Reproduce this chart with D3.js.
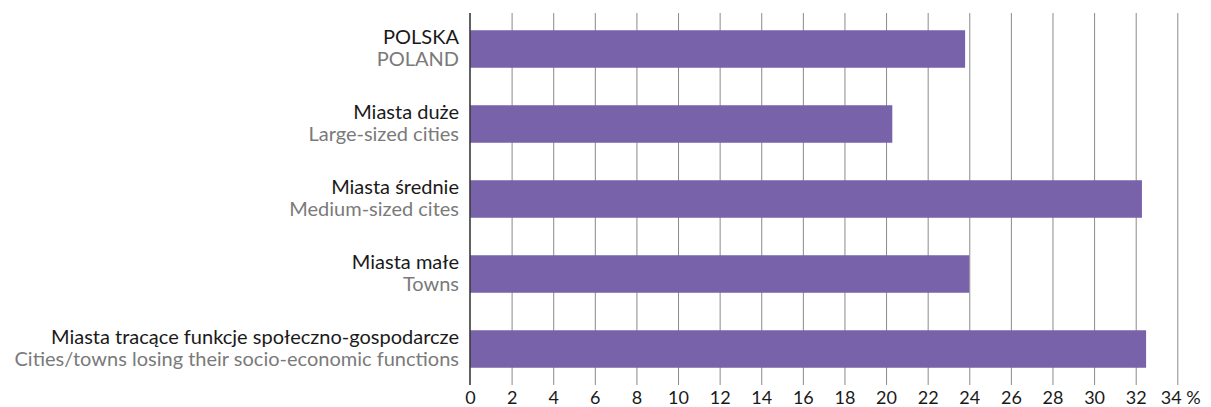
<!DOCTYPE html>
<html>
<head>
<meta charset="utf-8">
<script src="https://cdn.jsdelivr.net/npm/d3@7"></script>
<style>
  html, body { margin: 0; padding: 0; background: #ffffff; }
  svg { display: block; }
  text { font-family: Lato, "Open Sans", sans-serif; }
</style>
</head>
<body>
<svg id="chart" width="1211" height="407"></svg>
<script>
// Category labels (Polish / English) and their values in percent
const labelsPl = [
  "POLSKA",
  "Miasta duże",
  "Miasta średnie",
  "Miasta małe",
  "Miasta tracące funkcje społeczno-gospodarcze"
];
const labelsEn = [
  "POLAND",
  "Large-sized cities",
  "Medium-sized cites",
  "Towns",
  "Cities/towns losing their socio-economic functions"
];
const values = [23.8, 20.3, 32.3, 24.0, 32.5];
const tickValues = [0, 2, 4, 6, 8, 10, 12, 14, 16, 18, 20, 22, 24, 26, 28, 30, 32, 34];

const svg = d3.select("#chart");

const x = d3.scaleLinear().domain([0, 34]).range([470, 1177.3]);
const y = d3.scaleBand()
  .domain(labelsPl)
  .range([11.5, 386.5])
  .paddingInner(0.5)
  .paddingOuter(0.25);

const gridTop = 13, gridBottom = 385;

// Vertical gridlines (extend below the plot as tick marks)
svg.append("g")
  .selectAll("line")
  .data(tickValues.filter(d => d > 0))
  .join("line")
  .attr("x1", d => x(d) + 0.5)
  .attr("x2", d => x(d) + 0.5)
  .attr("y1", gridTop)
  .attr("y2", gridBottom)
  .attr("stroke", "#8a8a8a")
  .attr("stroke-width", 1);

// Bars
svg.append("g")
  .selectAll("rect")
  .data(values)
  .join("rect")
  .attr("x", x(0))
  .attr("y", (d, i) => y(labelsPl[i]))
  .attr("width", d => x(d) - x(0))
  .attr("height", y.bandwidth())
  .attr("fill", "#7862aa");

// Zero axis line
svg.append("line")
  .attr("x1", x(0))
  .attr("x2", x(0))
  .attr("y1", gridTop)
  .attr("y2", gridBottom)
  .attr("stroke", "#3a3a3a")
  .attr("stroke-width", 1.6);

// Bottom axis: labels only
const axis = d3.axisBottom(x)
  .tickValues(tickValues)
  .tickSize(0)
  .tickPadding(0)
  .tickFormat(d => d === 34 ? "34 %" : String(d));

const ax = svg.append("g")
  .attr("transform", `translate(0, ${gridBottom})`)
  .call(axis);
ax.select(".domain").remove();
ax.selectAll("text")
  .attr("y", 18.5)
  .attr("dy", null)
  .attr("fill", "#1a1a1a")
  .style("font-size", "18px");
ax.selectAll(".tick")
  .filter(d => d === 34)
  .select("text")
  .attr("text-anchor", "start")
  .attr("x", -17);

// Category labels
const lab = svg.append("g").attr("text-anchor", "end");
labelsPl.forEach((pl, i) => {
  const cy = y(pl) + y.bandwidth() / 2;
  lab.append("text")
    .attr("x", 459)
    .attr("y", cy - 5)
    .attr("fill", "#1a1a1a")
    .style("font-size", "20px")
    .text(pl);
  lab.append("text")
    .attr("x", 459)
    .attr("y", cy + 16.5)
    .attr("fill", "#7a7a7a")
    .style("font-size", "20px")
    .text(labelsEn[i]);
});
</script>
</body>
</html>
